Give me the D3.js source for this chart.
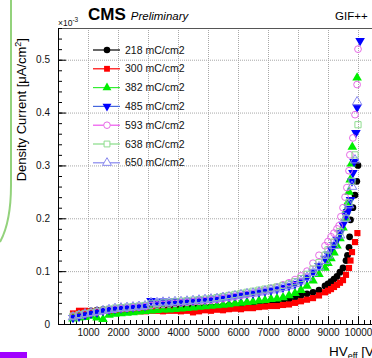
<!DOCTYPE html>
<html>
<head>
<meta charset="utf-8">
<script src="https://cdn.jsdelivr.net/npm/d3@7/dist/d3.min.js"></script>
<style>
  html, body { margin: 0; padding: 0; background: #fff; }
  svg { display: block; font-family: "Liberation Sans", Arial, sans-serif; }
</style>
</head>
<body>
<svg id="chart" width="372" height="358"></svg>
<script>
// HV scan points shared by all samples (body of the scan), volts
const hvScan = [500, 700, 900, 1100, 1300, 1500, 1700, 1900, 2100, 2300, 2500, 2700, 2900, 3100, 3300,
    3500, 3700, 3900, 4100, 4300, 4500, 4700, 4900, 5100, 5300, 5500, 5700, 5900, 6100, 6300,
    6500, 6700, 6900, 7100, 7300, 7500, 7700, 7900, 8100, 8300, 8500, 8700, 8900];

// density current, units of 1e-3 uA/cm2
const cur218 = [0.017, 0.02, 0.022, 0.025, 0.026, 0.027, 0.028, 0.028, 0.029, 0.029, 0.029, 0.03, 0.03, 0.03, 0.03,
    0.03, 0.031, 0.031, 0.031, 0.031, 0.032, 0.032, 0.032, 0.033, 0.033, 0.034, 0.035, 0.035, 0.036, 0.037,
    0.038, 0.039, 0.04, 0.041, 0.043, 0.045, 0.047, 0.05, 0.054, 0.057, 0.06, 0.064, 0.072];
const cur300 = [0.02, 0.025, 0.025, 0.024, 0.025, 0.025, 0.024, 0.022, 0.022, 0.023, 0.023, 0.024, 0.024, 0.025, 0.025,
    0.024, 0.025, 0.025, 0.024, 0.025, 0.022, 0.024, 0.026, 0.025, 0.027, 0.026, 0.028, 0.029, 0.028, 0.03,
    0.03, 0.032, 0.033, 0.034, 0.034, 0.036, 0.037, 0.04, 0.043, 0.046, 0.049, 0.054, 0.06];
const cur382 = [0.01, 0.012, 0.013, 0.015, 0.012, 0.009, 0.017, 0.019, 0.02, 0.021, 0.022, 0.023, 0.024, 0.025, 0.026,
    0.027, 0.027, 0.028, 0.029, 0.03, 0.031, 0.032, 0.033, 0.034, 0.035, 0.036, 0.037, 0.039, 0.04, 0.041,
    0.042, 0.044, 0.045, 0.047, 0.048, 0.05, 0.054, 0.058, 0.064, 0.072, 0.082, 0.094, 0.106];
const cur485 = [0.012, 0.014, 0.017, 0.02, 0.022, 0.025, 0.027, 0.029, 0.03, 0.031, 0.032, 0.033, 0.034, 0.044, 0.041,
    0.043, 0.042, 0.043, 0.042, 0.043, 0.044, 0.045, 0.046, 0.047, 0.048, 0.05, 0.051, 0.053, 0.055, 0.057,
    0.058, 0.06, 0.062, 0.064, 0.066, 0.069, 0.072, 0.076, 0.081, 0.088, 0.098, 0.11, 0.124];
const cur593 = [0.015, 0.017, 0.019, 0.021, 0.023, 0.025, 0.027, 0.028, 0.029, 0.03, 0.031, 0.032, 0.033, 0.035, 0.036,
    0.037, 0.038, 0.039, 0.04, 0.041, 0.042, 0.043, 0.044, 0.045, 0.046, 0.048, 0.05, 0.052, 0.054, 0.056,
    0.058, 0.061, 0.064, 0.067, 0.07, 0.074, 0.078, 0.084, 0.091, 0.1, 0.115, 0.13, 0.148];
const cur638 = [0.015, 0.018, 0.02, 0.022, 0.024, 0.026, 0.028, 0.03, 0.031, 0.032, 0.033, 0.034, 0.035, 0.038, 0.039,
    0.04, 0.041, 0.042, 0.043, 0.044, 0.045, 0.046, 0.047, 0.048, 0.05, 0.052, 0.054, 0.056, 0.058, 0.06,
    0.062, 0.064, 0.066, 0.068, 0.07, 0.073, 0.076, 0.08, 0.086, 0.094, 0.104, 0.116, 0.13];
const cur650 = [0.013, 0.016, 0.019, 0.021, 0.023, 0.025, 0.027, 0.029, 0.03, 0.031, 0.032, 0.033, 0.034, 0.04, 0.04,
    0.041, 0.041, 0.042, 0.042, 0.043, 0.044, 0.045, 0.046, 0.047, 0.048, 0.05, 0.051, 0.053, 0.055, 0.057,
    0.058, 0.06, 0.062, 0.064, 0.066, 0.069, 0.072, 0.076, 0.081, 0.088, 0.097, 0.108, 0.12];

// last part of each scan, near the knee
const tailHv218 = [9000, 9100, 9200, 9300, 9400, 9500, 9600, 9650, 9700, 9720, 9750, 9830, 9900, 9960, 10000];
const tailCur218 = [0.076, 0.08, 0.085, 0.09, 0.098, 0.106, 0.12, 0.13, 0.145, 0.165, 0.197, 0.22, 0.244, 0.27, 0.3];
const tailHv300 = [9000, 9100, 9200, 9300, 9400, 9500, 9600, 9700, 9750, 9800, 9900, 9980];
const tailCur300 = [0.063, 0.066, 0.07, 0.074, 0.078, 0.083, 0.093, 0.106, 0.12, 0.136, 0.155, 0.172];
const tailHv382 = [9000, 9100, 9200, 9300, 9400, 9500, 9570, 9620, 9660, 9700, 9740, 9780, 9810, 9970];
const tailCur382 = [0.115, 0.124, 0.135, 0.148, 0.162, 0.182, 0.2, 0.216, 0.23, 0.25, 0.273, 0.303, 0.335, 0.466];
const tailHv485 = [9000, 9100, 9200, 9300, 9400, 9500, 9600, 9650, 9700, 9750, 9800, 9830, 9870, 9930, 9970, 10070];
const tailCur485 = [0.132, 0.142, 0.15, 0.16, 0.172, 0.188, 0.205, 0.212, 0.22, 0.235, 0.27, 0.286, 0.307, 0.362, 0.41, 0.536];
const tailHv593 = [9000, 9100, 9200, 9300, 9370, 9430, 9500, 9570, 9630, 9700, 9730, 9830, 9900, 9970, 10000];
const tailCur593 = [0.156, 0.165, 0.172, 0.18, 0.186, 0.203, 0.22, 0.24, 0.258, 0.29, 0.32, 0.352, 0.396, 0.453, 0.52];
const tailHv638 = [9000, 9200, 9400, 9600, 9700, 9800, 9900, 10000];
const tailCur638 = [0.14, 0.155, 0.175, 0.2, 0.23, 0.27, 0.32, 0.377];
const tailHv650 = [9000, 9200, 9400, 9600, 9700, 9800, 9900, 9970];
const tailCur650 = [0.13, 0.148, 0.168, 0.2, 0.225, 0.26, 0.31, 0.42];

const sampleLabels = ["218 mC/cm2", "300 mC/cm2", "382 mC/cm2", "485 mC/cm2", "593 mC/cm2", "638 mC/cm2", "650 mC/cm2"];
const xTickLabels = [1000, 2000, 3000, 4000, 5000, 6000, 7000, 8000, 9000, 10000];
const yTickLabels = [0, 0.1, 0.2, 0.3, 0.4, 0.5];

const series = [
    { label: sampleLabels[0], body: cur218, hv: tailHv218, cur: tailCur218, shape: d3.symbolCircle, color: "#000", line: "#000", open: false },
    { label: sampleLabels[1], body: cur300, hv: tailHv300, cur: tailCur300, shape: d3.symbolSquare, color: "#ff0000", line: "#ff0000", open: false },
    { label: sampleLabels[2], body: cur382, hv: tailHv382, cur: tailCur382, shape: d3.symbolTriangle, color: "#00ee00", line: "#33ee33", open: false },
    { label: sampleLabels[3], body: cur485, hv: tailHv485, cur: tailCur485, shape: d3.symbolTriangle, color: "#0000ff", line: "#4466dd", open: false, flip: true },
    { label: sampleLabels[4], body: cur593, hv: tailHv593, cur: tailCur593, shape: d3.symbolCircle, color: "#e66ae6", line: "#ee55ee", open: true },
    { label: sampleLabels[5], body: cur638, hv: tailHv638, cur: tailCur638, shape: d3.symbolSquare, color: "#8fdc8f", line: "#88dd88", open: true },
    { label: sampleLabels[6], body: cur650, hv: tailHv650, cur: tailCur650, shape: d3.symbolTriangle, color: "#8a8aee", line: "#8888ee", open: true },
];

const translate = (x, y) => `translate(${x}, ${y})`;

function drawChart(svgEl) {
    const svg = d3.select(svgEl);
    const plot = { left: 58, right: 373, top: 28, bottom: 324 };

    // slide leftovers around the figure
    svg.append("path")
        .attr("d", "M11,0 L11,185 Q11,222 0,242")
        .attr("fill", "none")
        .attr("stroke", "#93d27c")
        .attr("stroke-width", 2);
    svg.append("rect")
        .attr("x", 0).attr("y", 352).attr("width", 27).attr("height", 6)
        .attr("fill", "#a100ff");

    const x = d3.scaleLinear().domain([0, 10500]).range([plot.left, plot.right]);
    const y = d3.scaleLinear().domain([0, 0.56]).range([plot.bottom, plot.top]);

    // dotted grid
    const grid = svg.append("g").attr("stroke", "#a8a8a8").attr("stroke-dasharray", "1,1");
    grid.selectAll("line.gx").data(xTickLabels).enter().append("line")
        .attr("x1", d => x(d) + 0.5).attr("x2", d => x(d) + 0.5)
        .attr("y1", plot.top).attr("y2", plot.bottom);
    grid.selectAll("line.gy").data(yTickLabels.slice(1)).enter().append("line")
        .attr("x1", plot.left).attr("x2", plot.right)
        .attr("y1", d => y(d) + 0.5).attr("y2", d => y(d) + 0.5);

    // frame (top edge only shows, right edge is cut off)
    svg.append("line")
        .attr("x1", plot.left).attr("x2", plot.right)
        .attr("y1", plot.top + 0.5).attr("y2", plot.top + 0.5)
        .attr("stroke", "#555").attr("stroke-width", 1.2);

    // X axis, ticks pointing inside like ROOT
    const xAxis = d3.axisBottom(x).tickValues(xTickLabels).tickSize(-8).tickSizeOuter(0).tickPadding(5)
        .tickFormat(d3.format("d"));
    const gx = svg.append("g").attr("transform", translate(0, plot.bottom)).call(xAxis);
    gx.append("g").call(d3.axisBottom(x).tickValues(d3.range(0, 10500, 200)).tickSize(-4).tickFormat(""))
        .select(".domain").remove();

    // Y axis
    const yAxis = d3.axisLeft(y).tickValues(yTickLabels).tickSize(-8).tickSizeOuter(0).tickPadding(8)
        .tickFormat(d => d === 0 ? "0" : d3.format(".1f")(d));
    const gy = svg.append("g").attr("transform", translate(plot.left, 0)).call(yAxis);
    gy.append("g").call(d3.axisLeft(y).tickValues(d3.range(0, 0.56, 0.02)).tickSize(-4).tickFormat(""))
        .select(".domain").remove();

    svg.selectAll(".tick text").attr("font-size", 10).attr("fill", "#111")
        .attr("font-family", "Liberation Sans, Arial, sans-serif");
    svg.selectAll(".domain, .tick line").attr("stroke", "#000");

    // markers
    const sym = (s, size) => d3.symbol().type(s.shape).size(size)();
    series.forEach(s => {
        const pts = hvScan.map((v, i) => [v, s.body[i]]).concat(s.hv.map((v, i) => [v, s.cur[i]]));
        const area = s.shape === d3.symbolSquare ? 38 : (s.shape === d3.symbolCircle ? 36 : 40);
        svg.append("g").selectAll("path").data(pts).enter().append("path")
            .attr("d", sym(s, area))
            .attr("transform", d => translate(x(d[0]), y(d[1])) + (s.flip ? " rotate(180)" : ""))
            .attr("fill", s.open ? "none" : s.color)
            .attr("stroke", s.open ? s.color : "none")
            .attr("stroke-width", 1);
    });

    // legend
    const legend = svg.append("g");
    series.forEach((s, i) => {
        const ly = 50 + i * 18.8;
        legend.append("line")
            .attr("x1", 93).attr("x2", 120).attr("y1", ly).attr("y2", ly)
            .attr("stroke", s.line).attr("stroke-width", 1.2);
        legend.append("path")
            .attr("d", sym(s, 34))
            .attr("transform", translate(107, ly) + (s.flip ? " rotate(180)" : ""))
            .attr("fill", s.open ? "#fff" : s.color)
            .attr("stroke", s.open ? s.color : "none");
        legend.append("text")
            .attr("x", 125).attr("y", ly + 3.5)
            .attr("font-size", 10.5).attr("fill", "#111")
            .text(s.label);
    });

    // titles
    const head = svg.append("text").attr("x", 88).attr("y", 20).attr("fill", "#000");
    head.append("tspan").attr("font-weight", "bold").attr("font-size", 17).text("CMS");
    head.append("tspan").attr("font-style", "italic").attr("font-size", 11.5).attr("dx", 5).text("Preliminary");

    svg.append("text").attr("x", 335).attr("y", 20).attr("font-size", 11.5).attr("fill", "#000").text("GIF++");

    const mult = svg.append("text").attr("x", 58).attr("y", 26).attr("font-size", 8.5).attr("fill", "#111");
    mult.append("tspan").text("\u00d710");
    mult.append("tspan").attr("dy", -4).attr("font-size", 6.5).text("-3");

    const yl = svg.append("text")
        .attr("transform", translate(26, 38) + " rotate(-90)")
        .attr("text-anchor", "end").attr("font-size", 13).attr("fill", "#000");
    yl.append("tspan").text("Density Current [\u03bcA/cm");
    yl.append("tspan").attr("dy", -5).attr("font-size", 9).text("2");
    yl.append("tspan").attr("dy", 5).text("]");

    // the reference figure is cropped on the right, the title runs off the edge there
    const xl = svg.append("text").attr("x", 329).attr("y", 356).attr("font-size", 13.5).attr("fill", "#000");
    xl.append("tspan").text("HV");
    xl.append("tspan").attr("dy", 3).attr("font-size", 9).text("eff");
    xl.append("tspan").attr("dy", -3).text(" [V]");
}

drawChart(document.getElementById("chart"));
</script>
</body>
</html>
